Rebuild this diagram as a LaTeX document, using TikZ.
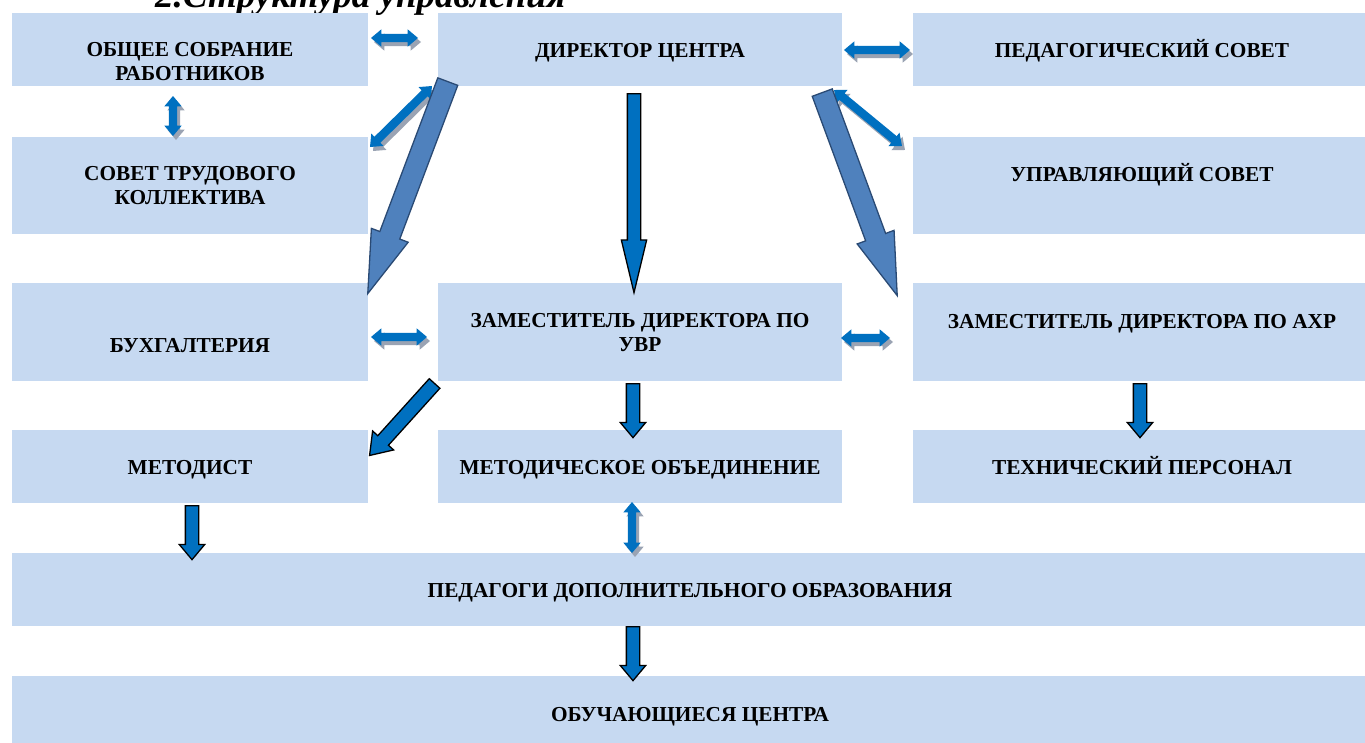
\documentclass[tikz,border=0pt]{standalone}
\usepackage{fontspec}
\setmainfont{Liberation Serif}
\usetikzlibrary{shapes.arrows,calc}
\definecolor{boxblue}{HTML}{C6D9F1}
\definecolor{arrblue}{HTML}{0070C0}
\definecolor{bigblue}{HTML}{4F81BD}
\definecolor{bigline}{HTML}{2A4A74}
\definecolor{shadegray}{HTML}{9AA3B3}

\newcommand\blkarrow[4]{%
  \path let \p1=($#4-#3$), \n1={atan2(\y1,\x1)}, \n2={veclen(\x1,\y1)} in
    #3 node[#1, anchor=tail, rotate=\n1, minimum height=\n2] (#2) {};}
\newcommand\dblarrow[3]{%
  \path let \p1=($#3-#2$), \n1={atan2(\y1,\x1)}, \n2={veclen(\x1,\y1)} in
    ($#2!0.5!#3+(3,4)$) node[dbl, fill=shadegray, rotate=\n1, minimum height=\n2] (#1s) {}
    ($#2!0.5!#3$) node[dbl, rotate=\n1, minimum height=\n2] (#1) {};}

\begin{document}
\begin{tikzpicture}[x=1pt,y=-1pt,
  box/.style={fill=boxblue,inner sep=0pt},
  txt/.style={font=\fontsize{21.3}{24}\selectfont\bfseries,align=center,inner sep=0pt},
  line/.style={txt,text height=14pt,text depth=0pt},
  dbl/.style={double arrow,fill=arrblue,inner xsep=0pt,inner ysep=4pt,
    double arrow head extend=4.5pt,double arrow tip angle=80},
  sgl/.style={single arrow,fill=arrblue,draw=black,line width=1.3pt,inner xsep=0pt,
    inner ysep=6pt,single arrow head extend=6pt,single arrow tip angle=80},
  big/.style={single arrow,fill=bigblue,draw=bigline,line width=1.3pt,inner xsep=0pt,
    inner ysep=10pt,single arrow head extend=9pt,single arrow tip angle=35}]
  \path[use as bounding box,clip] (0,0) rectangle (1365,742);

  \node[anchor=base west,inner sep=0pt,font=\fontsize{37}{40}\selectfont\bfseries\itshape]
    (title) at (155,7) {2.Структура управления};

  \node[box,minimum width=356pt,minimum height=73pt] (obs) at (190,49.5) {};
  \node[box,minimum width=404pt,minimum height=73pt] (dir) at (640,49.5) {};
  \node[box,minimum width=453pt,minimum height=73pt] (ped) at (1139.5,49.5) {};
  \node[box,minimum width=356pt,minimum height=97pt] (stk) at (190,185.5) {};
  \node[box,minimum width=453pt,minimum height=97pt] (upr) at (1139.5,185.5) {};
  \node[box,minimum width=356pt,minimum height=98pt] (buh) at (190,332) {};
  \node[box,minimum width=404pt,minimum height=98pt] (uvr) at (640,332) {};
  \node[box,minimum width=453pt,minimum height=98pt] (ahr) at (1139.5,332) {};
  \node[box,minimum width=356pt,minimum height=73pt] (met) at (190,466.5) {};
  \node[box,minimum width=404pt,minimum height=73pt] (mo) at (640,466.5) {};
  \node[box,minimum width=453pt,minimum height=73pt] (teh) at (1139.5,466.5) {};
  \node[box,minimum width=1354pt,minimum height=73pt] (pdo) at (689,589.5) {};
  \node[box,minimum width=1354pt,minimum height=74pt] (obu) at (689,713) {};

  \node[txt] (obs-t) at (190,62) {ОБЩЕЕ СОБРАНИЕ\\РАБОТНИКОВ};
  \node[line] (dir-t) at (640,50) {ДИРЕКТОР ЦЕНТРА};
  \node[line] (ped-t) at (1142,50) {ПЕДАГОГИЧЕСКИЙ СОВЕТ};
  \node[txt] (stk-t) at (190,186) {СОВЕТ ТРУДОВОГО\\КОЛЛЕКТИВА};
  \node[line] (upr-t) at (1142,174) {УПРАВЛЯЮЩИЙ СОВЕТ};
  \node[line] (buh-t) at (190,345) {БУХГАЛТЕРИЯ};
  \node[txt] (uvr-t) at (640,333) {ЗАМЕСТИТЕЛЬ ДИРЕКТОРА ПО\\УВР};
  \node[line] (ahr-t) at (1142,321) {ЗАМЕСТИТЕЛЬ ДИРЕКТОРА ПО АХР};
  \node[line] (met-t) at (190,467) {МЕТОДИСТ};
  \node[line] (mo-t) at (640,467) {МЕТОДИЧЕСКОЕ ОБЪЕДИНЕНИЕ};
  \node[line] (teh-t) at (1142,467) {ТЕХНИЧЕСКИЙ ПЕРСОНАЛ};
  \node[line] (pdo-t) at (690,590) {ПЕДАГОГИ ДОПОЛНИТЕЛЬНОГО ОБРАЗОВАНИЯ};
  \node[line] (obu-t) at (690,714) {ОБУЧАЮЩИЕСЯ ЦЕНТРА};

  % double arrows with shadow
  \dblarrow{obs-dir}{(371,38)}{(418,38)}
  \dblarrow{dir-ped}{(844,50)}{(910,50)}
  \dblarrow{obs-stk}{(173,96)}{(173,136)}
  \dblarrow{stk-dir}{(370,147)}{(432,86)}
  \dblarrow{dir-upr}{(834,90)}{(902,146)}
  \dblarrow{buh-uvr}{(371,337)}{(427,337)}
  \dblarrow{uvr-ahr}{(841,338)}{(890,338)}
  \dblarrow{mo-pdo}{(632,502)}{(632,553)}

  % single arrows
  \blkarrow{sgl,single arrow tip angle=27}{dir-uvr}{(634,93)}{(634,292)}
  \blkarrow{sgl}{uvr-mo}{(633,383)}{(633,437)}
  \blkarrow{sgl,inner ysep=6.5pt,single arrow head extend=7pt,single arrow tip angle=70}{uvr-met}{(435,383)}{(370,455)}
  \blkarrow{sgl}{met-pdo}{(192,505)}{(192,559)}
  \blkarrow{sgl}{pdo-obu}{(633,626)}{(633,680)}
  \blkarrow{sgl}{ahr-teh}{(1140,383)}{(1140,437)}
  \blkarrow{big}{dir-buh}{(448,81)}{(368,293)}
  \blkarrow{big}{dir-ahr}{(822,92)}{(897,295)}
\end{tikzpicture}
\end{document}
